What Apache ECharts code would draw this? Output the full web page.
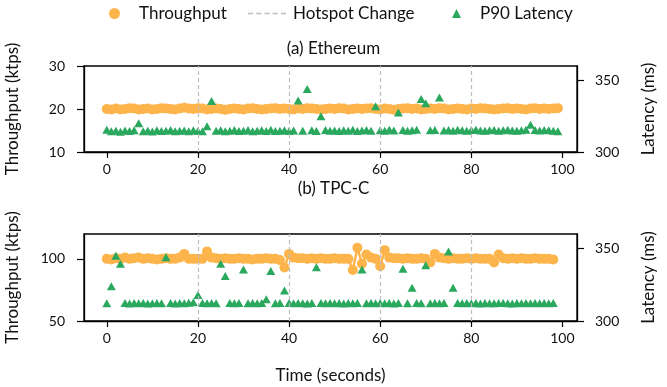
<!DOCTYPE html>
<html>
<head>
<meta charset="utf-8">
<script src="https://cdn.jsdelivr.net/npm/echarts@6/dist/echarts.min.js"></script>
<style>
  html, body { margin: 0; padding: 0; background: #fff; }
  #chart { width: 667px; height: 387px; }
</style>
</head>
<body>
<div id="chart"></div>
<script>
// time axis (seconds)
const xTicks = [0, 20, 40, 60, 80, 100]
const hotspots = [20, 40, 60, 80]

// (a) Ethereum, one sample per second
const ethThroughput = [
  20.0, 19.9, 20.1, 19.9, 20.0, 20.2, 20.1, 19.9, 20.0, 20.1,
  19.9, 20.0, 20.2, 20.1, 20.0, 19.9, 20.1, 20.3, 20.1, 20.0,
  20.2, 20.1, 19.9, 20.0, 20.1, 20.0, 19.8, 20.0, 20.1, 20.0,
  19.9, 20.1, 20.2, 20.0, 19.9, 20.0, 20.1, 20.2, 20.0, 20.1,
  20.0, 19.9, 20.1, 20.0, 20.2, 20.1, 20.0, 19.9, 20.0, 20.1,
  20.0, 20.2, 20.1, 19.9, 20.0, 20.1, 20.0, 20.1, 20.2, 20.0,
  19.9, 20.1, 20.0, 19.8, 20.0, 20.1, 20.2, 20.0, 20.1, 19.9,
  20.0, 20.1, 20.0, 20.2, 20.1, 19.9, 20.0, 20.1, 20.0, 19.9,
  20.1, 20.0, 20.2, 20.1, 20.0, 19.9, 20.0, 20.1, 20.2, 20.0,
  20.1, 20.0, 19.9, 20.1, 20.2, 20.0, 20.1, 20.0, 20.1, 20.2
]
const ethLatency = [
  315.5, 314.5, 314.8, 314.2, 315.0, 314.6, 315.2, 320.0, 314.5, 314.9,
  314.3, 315.1, 314.6, 314.9, 315.3, 314.4, 314.8, 315.0, 314.5, 315.2,
  314.7, 314.4, 318.0, 335.5, 314.8, 315.1, 314.5, 314.9, 315.3, 314.6,
  314.8, 315.4, 314.5, 314.9, 315.1, 314.6, 315.5, 314.7, 314.9, 315.2,
  314.6, 315.0, 336.0, 314.8, 344.0, 315.1, 314.7, 325.0, 315.3, 314.9,
  315.0, 314.6, 315.2, 314.8, 315.6, 314.7, 315.0, 315.3, 314.9, 332.0,
  315.2, 314.8, 315.5, 315.0, 327.5, 315.4, 314.9, 315.2, 315.6, 337.0,
  334.0, 315.1, 315.4, 338.0, 315.0, 315.3, 314.8, 315.5, 315.1, 314.9,
  315.3, 315.6, 315.0, 314.8, 315.2, 315.4, 314.9, 315.1, 315.5, 315.0,
  314.8, 315.2, 315.6, 319.0, 315.3, 315.0, 315.4, 315.1, 314.8, 314.4
]

// (b) TPC-C
const tpccThroughput = [
  100.0, 99.5, 100.5, 100.0, 101.0, 100.0, 100.5, 101.0, 100.0, 100.5,
  100.0, 99.5, 100.0, 100.5, 100.0, 100.0, 101.0, 104.0, 100.0, 100.0,
  100.0, 100.0, 106.0, 101.0, 100.5, 100.0, 100.5, 100.0, 100.0, 100.5,
  100.0, 100.0, 99.5, 100.0, 100.0, 100.5, 100.0, 100.0, 99.0, 93.0,
  104.0, 101.0, 100.5, 100.5, 100.0, 100.5, 100.0, 100.5, 100.0, 100.0,
  100.5, 100.0, 100.0, 100.0, 91.0, 109.0, 96.0, 103.5, 101.0, 100.0,
  94.0, 107.0, 101.0, 100.5, 100.5, 100.0, 100.5, 100.0, 100.0, 100.5,
  100.0, 97.0, 104.0, 101.0, 100.5, 100.0, 100.5, 100.0, 100.0, 100.5,
  100.0, 100.5, 100.0, 100.0, 100.0, 97.0, 103.5, 100.5, 100.0, 100.5,
  100.0, 100.5, 100.0, 100.0, 100.5, 100.0, 100.0, 100.0, 99.5
]
const tpccLatency = [
  312.3, 324.0, 345.0, 339.5, 312.4, 312.1, 312.5, 312.2, 312.4, 312.0,
  312.3, 312.5, 312.2, 344.0, 312.4, 312.1, 312.5, 312.3, 312.6, 313.0,
  318.0, 312.4, 312.2, 312.5, 312.3, 339.5, 331.0, 312.4, 312.2, 312.5,
  335.5, 312.3, 312.5, 312.2, 312.4, 315.0, 334.5, 312.3, 312.5, 321.0,
  312.4, 312.2, 312.5, 312.3, 312.1, 312.4, 337.0, 312.5, 312.2, 312.4,
  312.3, 312.5, 312.1, 312.4, 312.2, 312.5, 335.5, 312.3, 312.4, 312.2,
  312.5, 312.3, 312.4, 312.1, 312.5, 336.0, 312.3, 323.0, 312.4, 312.2,
  338.5, 312.3, 312.5, 312.2, 312.4, 348.0, 323.0, 312.4, 312.2, 312.5,
  312.3, 312.4, 312.1, 312.5, 312.3, 312.2, 312.4, 312.5, 312.3, 312.1,
  312.4, 312.2, 312.5, 312.3, 312.4, 312.2, 312.5, 312.3, 312.4
]

const ORANGE = '#fdb44b'
const GREEN = '#2aa85e'
const GREY = '#bdbdbd'
const FONT = 'Lato'
// five short dashes for the legend handle
const DASH_ICON = 'path://M0 0h5v1.4H0z M8 0h5v1.4H8z M16 0h5v1.4h-5z M24 0h5v1.4h-5z M32 0h5v1.4h-5z'

const pairs = arr => arr.map((v, i) => [i, v])

const chart = echarts.init(document.getElementById('chart'), null, { renderer: 'canvas' })

function xAxisFor(gridIndex, showName) {
  return {
    type: 'value', gridIndex, min: -5, max: 103.2,
    name: showName ? 'Time (seconds)' : '', nameLocation: 'middle', nameGap: 46,
    nameTextStyle: { fontFamily: FONT, fontSize: 17, color: '#111' },
    axisLine: { show: true, onZero: false, lineStyle: { color: '#000', width: 1.3 } },
    axisTick: { show: true, length: 6, customValues: xTicks, lineStyle: { color: '#000', width: 1.2 } },
    axisLabel: { customValues: xTicks, margin: 10, fontFamily: FONT, fontSize: 14, color: '#111' },
    splitLine: { show: false }
  }
}

function yAxisFor(gridIndex, position, min, max, ticks, name) {
  return {
    type: 'value', gridIndex, position, min, max,
    name, nameLocation: 'middle', nameGap: 63,
    nameTextStyle: { fontFamily: FONT, fontSize: 17, color: '#111' },
    axisLine: { show: true, onZero: false, lineStyle: { color: '#000', width: 1.3 } },
    axisTick: { show: true, length: 7, customValues: ticks, lineStyle: { color: '#000', width: 1.2 } },
    axisLabel: { customValues: ticks, margin: position === 'left' ? 19 : 18, fontFamily: FONT, fontSize: 14, color: '#111' },
    splitLine: { show: false }
  }
}

function hotspotSeries(idx) {
  return {
    name: 'Hotspot Change', type: 'line', xAxisIndex: idx, yAxisIndex: idx * 2,
    data: [], symbol: 'none', silent: true,
    lineStyle: { type: 'dashed', color: GREY, width: 1.2 },
    itemStyle: { color: GREY },
    markLine: {
      silent: true, symbol: ['none', 'none'], label: { show: false },
      lineStyle: { type: [4, 3], color: GREY, width: 1.2 },
      data: hotspots.map(x => ({ xAxis: x }))
    },
    z: 1
  }
}

function throughputSeries(idx, data) {
  return {
    name: 'Throughput', type: 'line', xAxisIndex: idx, yAxisIndex: idx * 2,
    data: pairs(data), symbol: 'circle', symbolSize: 10, showAllSymbol: true,
    lineStyle: { color: ORANGE, width: 2.5 }, itemStyle: { color: ORANGE }, z: 3
  }
}

function latencySeries(idx, data) {
  return {
    name: 'P90 Latency', type: 'scatter', xAxisIndex: idx, yAxisIndex: idx * 2 + 1,
    data: pairs(data), symbol: 'triangle', symbolSize: [9, 8],
    itemStyle: { color: GREEN, opacity: 1 }, z: 4
  }
}

const legendText = pad => ({ fontFamily: FONT, fontSize: 17, color: '#111', padding: [0, 0, 0, pad] })

const gridBase = { left: 84, right: 90, show: true, borderColor: '#000', borderWidth: 1.3, backgroundColor: 'transparent', containLabel: false, outerBoundsMode: 'none' }

const option = {
  animation: false,
  backgroundColor: '#fff',
  title: [
    { text: '(a) Ethereum', left: 'center', top: 35, textStyle: { fontFamily: FONT, fontSize: 17, fontWeight: 'normal', color: '#111' } },
    { text: '(b) TPC-C', left: 'center', top: 175, textStyle: { fontFamily: FONT, fontSize: 17, fontWeight: 'normal', color: '#111' } }
  ],
  legend: [
    { data: [{ name: 'Throughput', icon: 'circle' }], left: 104, top: 0, itemWidth: 11, itemHeight: 11, textStyle: legendText(14) },
    { data: [{ name: 'Hotspot Change', icon: DASH_ICON }], left: 243, top: 0, itemWidth: 38, itemHeight: 2, textStyle: legendText(2) },
    { data: [{ name: 'P90 Latency', icon: 'triangle' }], left: 447, top: 0, itemWidth: 9, itemHeight: 9, textStyle: legendText(14) }
  ],
  grid: [
    Object.assign({ top: 66, height: 86 }, gridBase),
    Object.assign({ top: 234, height: 87 }, gridBase)
  ],
  xAxis: [xAxisFor(0, false), xAxisFor(1, true)],
  yAxis: [
    yAxisFor(0, 'left', 10, 30, [10, 20, 30], 'Throughput (ktps)'),
    yAxisFor(0, 'right', 300, 360, [300, 350], 'Latency (ms)'),
    yAxisFor(1, 'left', 50, 120, [50, 100], 'Throughput (ktps)'),
    yAxisFor(1, 'right', 300, 360, [300, 350], 'Latency (ms)')
  ],
  series: [
    hotspotSeries(0), throughputSeries(0, ethThroughput), latencySeries(0, ethLatency),
    hotspotSeries(1), throughputSeries(1, tpccThroughput), latencySeries(1, tpccLatency)
  ]
}

chart.setOption(option)
</script>
</body>
</html>
